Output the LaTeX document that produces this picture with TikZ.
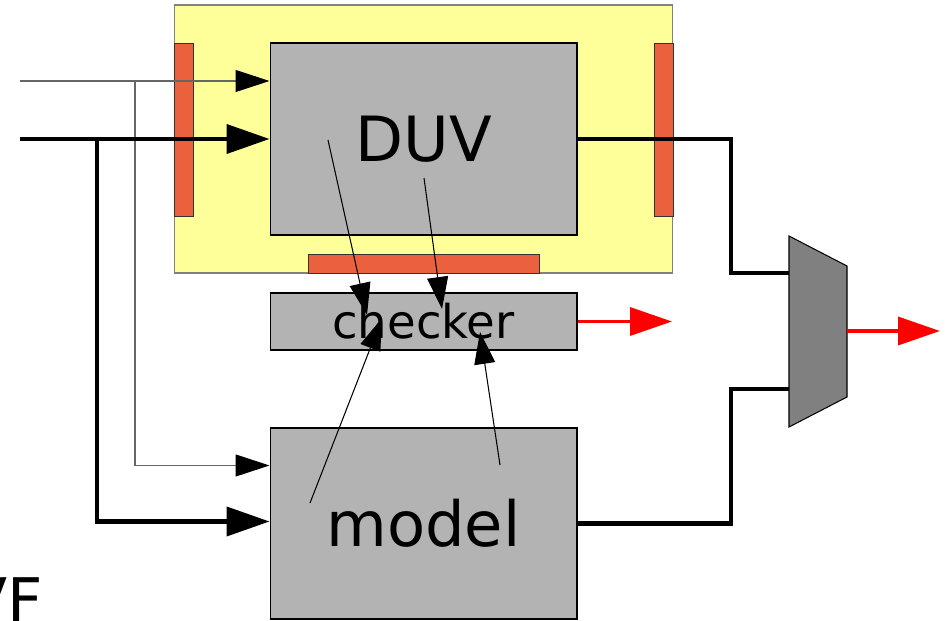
\documentclass[tikz,border=0pt]{standalone}
\usepackage{fontspec}
\setmainfont{DejaVu Sans}
\usetikzlibrary{arrows.meta,calc}

\definecolor{envyellow}{HTML}{FFFF99}
\definecolor{portorange}{HTML}{EB613D}
\definecolor{blockgray}{HTML}{B3B3B3}
\definecolor{muxgray}{HTML}{808080}

\tikzstyle{block} = [rectangle, draw=black, line width=0.6pt, fill=blockgray, inner sep=0pt, minimum width=6.14cm]
\tikzstyle{port} = [rectangle, draw=black!80, line width=0.5pt, fill=portorange, inner sep=0pt]
\tikzstyle{thinwire} = [draw=black!60, line width=0.6pt, -{Triangle[black, length=0.68cm, width=0.44cm]}]
\tikzstyle{thickwire} = [draw=black, line width=2.3pt]
\tikzstyle{thickarrow} = [thickwire, -{Triangle[length=0.86cm, width=0.58cm]}]
\tikzstyle{probe} = [draw=black, line width=0.6pt, -{Triangle[length=0.64cm, width=0.42cm]}]
\tikzstyle{result} = [draw=red, line width=2pt, -{Triangle[length=0.84cm, width=0.56cm]}]

\begin{document}
\begin{tikzpicture}[x=0.02cm, y=-0.02cm]
	\useasboundingbox (0,0) rectangle (949,621);
	% testbench environment
	\node[rectangle, draw=black!50, line width=0.6pt, fill=envyellow, minimum width=9.98cm, minimum height=5.36cm] (env) at (423.5,139) {};
	\node[port, minimum width=0.38cm, minimum height=3.46cm] (lport) at (183.5,129.5) {};
	\node[port, minimum width=0.38cm, minimum height=3.46cm] (rport) at (663.5,129.5) {};
	\node[port, minimum width=4.62cm, minimum height=0.38cm] (bport) at (423.5,263.5) {};
	\node[block, minimum height=3.84cm, font=\fontsize{35.5}{40}\selectfont] (duv) at (423.5,139) {DUV};
	\node[block, minimum height=1.14cm, font=\fontsize{26.5}{30}\selectfont] (checker) at (423.5,321.5) {checker};
	\node[block, minimum height=3.82cm, font=\fontsize{35.5}{40}\selectfont] (model) at (423.5,523.5) {model};
	\node[anchor=base east, inner sep=0pt, font=\fontsize{35}{40}\selectfont] (vf) at (43,622) {VF};

	% multiplexer
	\coordinate (muxa) at (789,273);
	\coordinate (muxb) at (789,389);
	\coordinate (muxo) at (847,331);
	\draw[fill=muxgray, line width=0.6pt] (789,236) -- (847,266) -- (847,397) -- (789,427) -- cycle;

	% stimulus
	\coordinate (ina) at (20,81);
	\coordinate (inb) at (20,139);
	\coordinate (tapa) at (135,81);
	\coordinate (tapb) at (97,139);
	\draw[thinwire] (ina) -- (ina -| duv.west);
	\draw[thinwire] (tapa) |- ($(model.north west)+(0,38)$);
	\draw[thickarrow] (inb) -- (inb -| duv.west);
	\draw[thickarrow] (tapb) |- ($(model.north west)+(0,94)$);

	% outputs to the mux
	\coordinate (ja) at (731,273);
	\coordinate (jb) at (731,389);
	\draw[thickwire] (duv.east) -| (ja) -- (muxa);
	\draw[thickwire] (model.east) -| (jb) -- (muxb);
	\draw[result] (muxo) -- (940,331);
	\draw[result] (checker.east) -- (672,321.5);

	% probes into the checker
	\coordinate (da) at (328,140);
	\coordinate (ca) at (367,315);
	\coordinate (db) at (424,178);
	\coordinate (cb) at (442,309);
	\coordinate (ma) at (310,503);
	\coordinate (cc) at (382,318);
	\coordinate (mb) at (500,465);
	\coordinate (cd) at (480,332);
	\draw[probe] (da) -- (ca);
	\draw[probe] (db) -- (cb);
	\draw[probe] (ma) -- (cc);
	\draw[probe] (mb) -- (cd);
\end{tikzpicture}
\end{document}
